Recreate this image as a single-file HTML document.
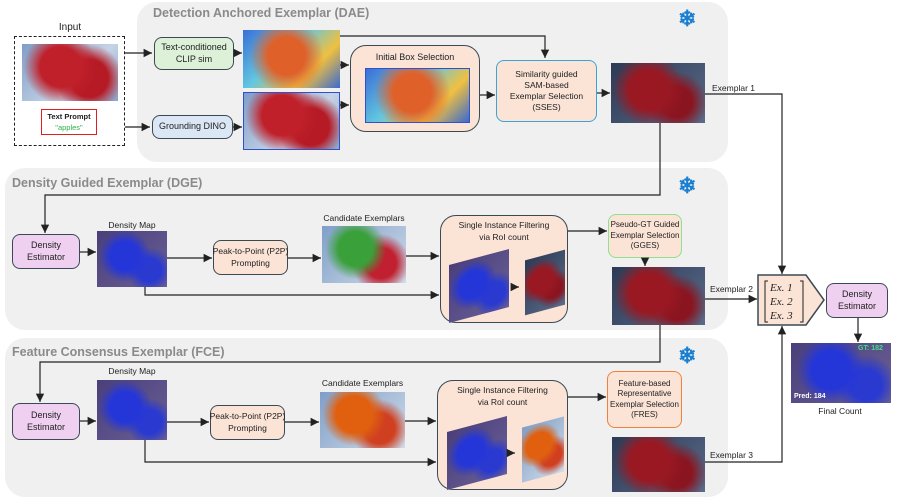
<!DOCTYPE html>
<html><head><meta charset="utf-8"><style>
body{margin:0;width:897px;height:503px;background:#fff;position:relative;overflow:hidden;font-family:"Liberation Sans",sans-serif;color:#222}
div{position:absolute;box-sizing:border-box}
.panel{background:#f0f0f0;border-radius:20px}
.title{font-weight:bold;color:#8a8a8a;font-size:12.5px;white-space:nowrap}
.box{border:1.5px solid #3a4a55;border-radius:8px;display:flex;align-items:center;justify-content:center;text-align:center;font-size:8.5px;line-height:1.3;white-space:nowrap}
.lbl{font-size:8.5px;white-space:nowrap;text-align:center}
.snow{color:#1b7fd1;font-size:22px;font-weight:bold}
.red{background:radial-gradient(circle at 40% 40%,#c0202a 0 30%,transparent 55%),radial-gradient(circle at 70% 60%,#b51a25 0 25%,transparent 45%),linear-gradient(135deg,#7f9fc8,#c5d3e6 60%,#8aa6cc)}
.heat{background:radial-gradient(circle at 45% 45%,#e0602a 0 30%,transparent 60%),linear-gradient(135deg,#3b6fd6,#62c7e0 40%,#f0c040 70%,#3a6ad0)}
.dens{background:radial-gradient(circle at 40% 45%,#2536d8 0 28%,transparent 50%),radial-gradient(circle at 75% 70%,#2a3ad0 0 18%,transparent 35%),linear-gradient(135deg,#4a3f7a,#6a5f95)}
.cand{background:radial-gradient(circle at 40% 40%,#3aa03a 0 28%,transparent 50%),radial-gradient(circle at 70% 65%,#c02030 0 22%,transparent 42%),linear-gradient(135deg,#7f9fc8,#d0dbe9)}
.cand2{background:radial-gradient(circle at 40% 40%,#e06010 0 30%,transparent 52%),radial-gradient(circle at 70% 65%,#d04020 0 22%,transparent 42%),linear-gradient(135deg,#7f9fc8,#d0dbe9)}
.dark{background:radial-gradient(circle at 40% 45%,#9a1822 0 30%,transparent 55%),radial-gradient(circle at 70% 65%,#8a1520 0 20%,transparent 40%),linear-gradient(135deg,#2c3a55,#5a6a88)}
</style></head><body>
<div class="panel" style="left:137px;top:2px;width:591px;height:160px"></div>
<div class="panel" style="left:5px;top:168px;width:723px;height:162px"></div>
<div class="panel" style="left:5px;top:338px;width:723px;height:159px"></div>
<div class="title" style="left:153px;top:6px">Detection Anchored Exemplar (DAE)</div>
<div class="title" style="left:12px;top:176px">Density Guided Exemplar (DGE)</div>
<div class="title" style="left:12px;top:345px">Feature Consensus Exemplar (FCE)</div>
<div class="snow" style="left:678px;top:6px">❄</div>
<div class="snow" style="left:678px;top:173px">❄</div>
<div class="snow" style="left:678px;top:343px">❄</div>

<div class="lbl" style="left:55px;top:22px;width:30px;font-size:10px">Input</div>
<div style="left:14px;top:36px;width:111px;height:110px;border:1.5px dashed #222"></div>
<div class="red" style="left:22px;top:44px;width:96px;height:57px"></div>
<div style="left:41px;top:109px;width:56px;height:26px;border:1.5px solid #e02020;font-size:7.5px;text-align:center;line-height:11px;padding-top:1px"><b>Text Prompt</b><br><span style="color:#2fb14a">"apples"</span></div>

<div class="box" style="left:154px;top:37px;width:80px;height:33px;background:#dcf1d8;font-size:9px">Text-conditioned<br>CLIP sim</div>
<div class="box" style="left:152px;top:115px;width:81px;height:24px;background:#dbe7f4;font-size:9px">Grounding DINO</div>
<div class="heat" style="left:243px;top:30px;width:97px;height:58px"></div>
<div class="red" style="left:243px;top:92px;width:97px;height:58px;border:1px solid #3050d0"></div>
<div class="box" style="left:350px;top:45px;width:130px;height:87px;background:#fbe3d6;border-radius:16px;align-items:flex-start;padding-top:6px;font-size:9px">Initial Box Selection</div>
<div class="heat" style="left:365px;top:68px;width:105px;height:55px;border:1px solid #3050d0"></div>
<div class="box" style="left:496px;top:60px;width:101px;height:62px;background:#fbe3d6;border-color:#3aa3d8">Similarity guided<br>SAM-based<br>Exemplar Selection<br>(SSES)</div>
<div class="dark" style="left:611px;top:63px;width:94px;height:60px"></div>
<div class="lbl" style="left:712px;top:83px">Exemplar 1</div>

<!-- DGE -->
<div class="box" style="left:12px;top:234px;width:68px;height:35px;background:#f0d0f0;font-size:9px">Density<br>Estimator</div>
<div class="lbl" style="left:100px;top:220px;width:64px">Density Map</div>
<div class="dens" style="left:97px;top:231px;width:70px;height:56px"></div>
<div class="box" style="left:213px;top:240px;width:75px;height:35px;background:#fbe3d6">Peak-to-Point (P2P)<br>Prompting</div>
<div class="lbl" style="left:322px;top:213px;width:84px">Candidate Exemplars</div>
<div class="cand" style="left:322px;top:226px;width:84px;height:57px"></div>
<div class="box" style="left:440px;top:215px;width:128px;height:108px;background:#fbe3d6;border-radius:16px;align-items:flex-start;padding-top:4px;line-height:1.4">Single Instance Filtering<br>via RoI count</div>
<div class="dens" style="left:449px;top:257px;width:60px;height:58px;transform:skewY(-15deg)"></div>
<div class="dark" style="left:525px;top:255px;width:40px;height:55px;transform:skewY(-15deg)"></div>
<div class="box" style="left:608px;top:214px;width:74px;height:44px;background:#fbe3d6;border-color:#8fe08f;font-size:8px">Pseudo-GT Guided<br>Exemplar Selection<br>(GGES)</div>
<div class="dark" style="left:612px;top:267px;width:93px;height:58px"></div>
<div class="lbl" style="left:710px;top:284px">Exemplar 2</div>

<!-- FCE -->
<div class="box" style="left:12px;top:403px;width:68px;height:37px;background:#f0d0f0;font-size:9px">Density<br>Estimator</div>
<div class="lbl" style="left:100px;top:366px;width:64px">Density Map</div>
<div class="dens" style="left:97px;top:380px;width:70px;height:60px"></div>
<div class="box" style="left:210px;top:405px;width:75px;height:35px;background:#fbe3d6">Peak-to-Point (P2P)<br>Prompting</div>
<div class="lbl" style="left:320px;top:378px;width:85px">Candidate Exemplars</div>
<div class="cand2" style="left:320px;top:392px;width:85px;height:56px"></div>
<div class="box" style="left:437px;top:380px;width:131px;height:110px;background:#fbe3d6;border-radius:16px;align-items:flex-start;padding-top:4px;line-height:1.4">Single Instance Filtering<br>via RoI count</div>
<div class="dens" style="left:447px;top:424px;width:60px;height:58px;transform:skewY(-15deg)"></div>
<div class="cand2" style="left:522px;top:422px;width:42px;height:55px;transform:skewY(-15deg)"></div>
<div class="box" style="left:607px;top:371px;width:75px;height:57px;background:#fbe3d6;border-color:#f08040;font-size:8px">Feature-based<br>Representative<br>Exemplar Selection<br>(FRES)</div>
<div class="dark" style="left:612px;top:437px;width:93px;height:55px"></div>
<div class="lbl" style="left:710px;top:450px">Exemplar 3</div>

<svg style="position:absolute;left:0;top:0" width="897" height="503">
<defs><marker id="a" markerWidth="8" markerHeight="8" refX="7" refY="4" orient="auto"><path d="M0,0.5 L7,4 L0,7.5 z" fill="#222"/></marker></defs>
<g stroke="#222" stroke-width="1.2" fill="none" marker-end="url(#a)">
<path d="M125,53 H152"/><path d="M125,127 H150"/>
<path d="M234,53 H242"/><path d="M233,127 H242"/>
<path d="M340,65 H349"/><path d="M340,105 H349"/>
<path d="M340,36 H545 V58"/>
<path d="M480,95 H495"/><path d="M597,93 H610"/>
<path d="M705,94 H782 V274"/>
<path d="M660,123 V195 H45 V233"/>
<path d="M80,252 H96"/><path d="M167,258 H212"/><path d="M288,258 H321"/><path d="M406,256 H439"/>
<path d="M145,287 V295 H439"/>
<path d="M568,231 H607"/><path d="M645,258 V266"/>
<path d="M705,299 H757"/>
<path d="M660,325 V362 H40 V402"/>
<path d="M80,421 H96"/><path d="M167,422 H209"/><path d="M285,422 H319"/><path d="M405,421 H436"/>
<path d="M145,440 V462 H436"/>
<path d="M568,397 H606"/>
<path d="M705,462 H782 V326"/>
<path d="M858,318 V342"/>
<path d="M512,287 H519"/><path d="M508,453 H515"/>
</g>
<path d="M758,275 H806 L824,300 L806,325 H758 Z" fill="#fbe3d6" stroke="#3a4a55" stroke-width="1.5"/>
<g font-family="Liberation Serif,serif" font-style="italic" font-size="11" fill="#222">
<text x="770" y="291">Ex. 1</text><text x="770" y="305">Ex. 2</text><text x="770" y="319">Ex. 3</text></g>
<path d="M768,281 h-3 v41 h3 M800,281 h3 v41 h-3" stroke="#222" fill="none"/>
</svg>
<div class="box" style="left:826px;top:283px;width:62px;height:35px;background:#f0d0f0;font-size:9px">Density<br>Estimator</div>
<div class="dens" style="left:791px;top:343px;width:100px;height:60px"></div>
<div style="left:858px;top:345px;font-size:7px;color:#3fe080;font-weight:bold">GT: 182</div>
<div style="left:794px;top:393px;font-size:7px;color:#fff;font-weight:bold">Pred: 184</div>
<div class="lbl" style="left:815px;top:406px;width:50px">Final Count</div>
</body></html>
